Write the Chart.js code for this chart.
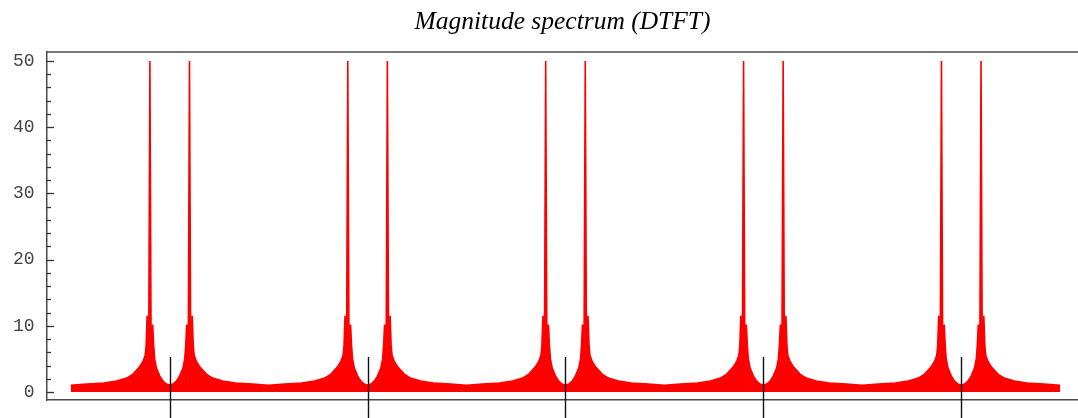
<!DOCTYPE html>
<html>
<head>
<meta charset="utf-8">
<script src="https://cdn.jsdelivr.net/npm/chart.js@4/dist/chart.umd.min.js"></script>
<style>
  html, body { margin: 0; padding: 0; background: #fff; }
  #wrap { width: 1078px; height: 418px; position: relative; }
</style>
</head>
<body>
<div id="wrap"><canvas id="c"></canvas></div>
<script>
// Normalised frequency (cycles/sample) of each spectral period's centre.
const periodCenters = [0, 1, 2, 3, 4];

// One period of |X(f)|: frequency offset from the period centre and the
// magnitude envelope at that offset (peaks of 50 at +/-0.1, side lobes).
const periodOffsets = [
  -0.5, -0.419, -0.333, -0.268, -0.217, -0.185, -0.152, -0.135, -0.124, -0.119,
  -0.114, -0.107, -0.1, -0.093, -0.086, -0.081, -0.076, -0.067, -0.05, -0.034,
  -0.017, 0, 0.017, 0.034, 0.05, 0.067, 0.076, 0.081, 0.086, 0.093,
  0.1, 0.107, 0.114, 0.119, 0.124, 0.135, 0.152, 0.185, 0.217, 0.268,
  0.333, 0.419, 0.5
];
const magnitudeEnvelope = [
  1.0, 1.2, 1.35, 1.65, 2.1, 2.7, 3.8, 4.6, 5.5, 7,
  11.5, 0.3, 50, 0.3, 10.2, 7, 5, 3.6, 2.4, 1.65,
  1.2, 1.05, 1.2, 1.65, 2.4, 3.6, 5, 7, 10.2, 0.3,
  50, 0.3, 11.5, 7, 5.5, 4.6, 3.8, 2.7, 2.1, 1.65,
  1.35, 1.2, 1.0
];

const yTickValues = [0, 10, 20, 30, 40, 50];
const yMinorStep = 2;

// The spectrum repeats every period, so each period reuses the same envelope.
const spectrum = [];
periodCenters.forEach(c => {
  periodOffsets.forEach((o, i) => spectrum.push({ x: c + o, y: magnitudeEnvelope[i] }));
});

const frameColor = '#4a4a4a';

const framePlugin = {
  id: 'frame',
  afterDraw(chart) {
    const { ctx, chartArea: a, scales: { x, y } } = chart;
    ctx.save();
    // top border running to the canvas edge
    ctx.strokeStyle = frameColor;
    ctx.lineWidth = 1.5;
    ctx.beginPath();
    ctx.moveTo(a.left, a.top);
    ctx.lineTo(chart.width, a.top);
    ctx.stroke();

    // inward ticks on the y axis
    ctx.strokeStyle = '#333';
    ctx.lineWidth = 1.3;
    for (let v = 0; v <= 50; v += yMinorStep) {
      const py = Math.round(y.getPixelForValue(v)) + 0.5;
      const len = yTickValues.includes(v) ? 7 : 4;
      ctx.beginPath();
      ctx.moveTo(a.left, py);
      ctx.lineTo(a.left + len, py);
      ctx.stroke();
    }

    // long frequency tick marks crossing the bottom axis
    ctx.strokeStyle = '#111';
    ctx.lineWidth = 1.4;
    const topPx = y.getPixelForValue(5.3);
    periodCenters.forEach(c => {
      const px = Math.round(x.getPixelForValue(c)) + 0.5;
      ctx.beginPath();
      ctx.moveTo(px, topPx);
      ctx.lineTo(px, chart.height);
      ctx.stroke();
    });
    ctx.restore();
  }
};

new Chart(document.getElementById('c'), {
  type: 'line',
  data: {
    datasets: [{
      data: spectrum,
      borderColor: '#ff0000',
      backgroundColor: '#ff0000',
      borderWidth: 1.6,
      fill: 'origin',
      pointRadius: 0,
      tension: 0
    }]
  },
  options: {
    responsive: true,
    maintainAspectRatio: false,
    animation: false,
    layout: { padding: { left: 0, right: 0, top: 0, bottom: 10 } },
    plugins: {
      legend: { display: false },
      tooltip: { enabled: false },
      title: {
        display: true,
        text: 'Magnitude spectrum (DTFT)',
        fullSize: false,
        color: '#000',
        font: { family: '"Liberation Serif", serif', style: 'italic', weight: 'normal', size: 25.5 },
        padding: { top: 7, bottom: 14.4 }
      }
    },
    scales: {
      x: {
        type: 'linear',
        min: -0.62,
        max: 4.59,
        grid: { display: false },
        ticks: { display: false },
        border: { display: true, color: frameColor, width: 1.5 }
      },
      y: {
        type: 'linear',
        min: -1.21,
        max: 51.36,
        afterBuildTicks(scale) { scale.ticks = yTickValues.map(v => ({ value: v })); },
        afterFit(scale) { scale.width = 47; },
        grid: { display: false },
        ticks: {
          padding: 4.5,
          color: '#444',
          font: { family: '"Liberation Mono", monospace', size: 18 }
        },
        border: { display: true, color: frameColor, width: 1.5 }
      }
    }
  },
  plugins: [framePlugin]
});
</script>
</body>
</html>
